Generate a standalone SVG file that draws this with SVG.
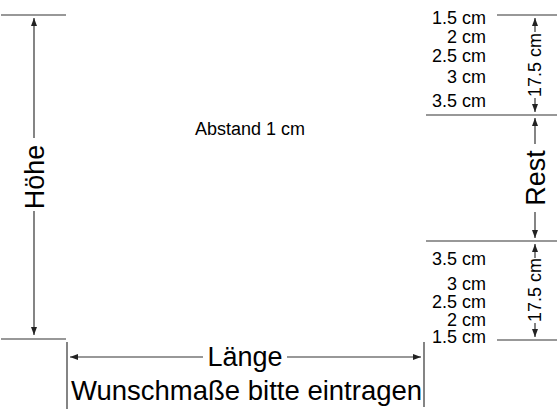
<svg xmlns="http://www.w3.org/2000/svg" width="560" height="420" viewBox="0 0 560 420">
<style>
.ln{stroke:#333;stroke-width:1.2;fill:none}
.ar{stroke:#333;stroke-width:1.2;fill:none;marker-end:url(#ah)}
.big{font-family:"Liberation Sans",Arial,sans-serif;font-size:27px;fill:#000}
.sm{font-family:"Liberation Sans",Arial,sans-serif;font-size:18px;fill:#000}
.r{text-anchor:end}
.m{text-anchor:middle}
</style>
<defs>
<marker id="ah" markerUnits="userSpaceOnUse" markerWidth="9" markerHeight="6" refX="8" refY="3" orient="auto">
<path d="M0,0 L8,3 L0,6 Z" fill="#222"/>
</marker>
</defs>
<rect width="560" height="420" fill="#fff"/>
<g id="extension-lines">
<line class="ln" x1="1" y1="15" x2="66" y2="15"/>
<line class="ln" x1="1" y1="339" x2="66" y2="339"/>
<line class="ln" x1="67" y1="342" x2="67" y2="409"/>
<line class="ln" x1="424" y1="342" x2="424" y2="407"/>
<line class="ln" x1="497" y1="15" x2="557" y2="15"/>
<line class="ln" x1="426" y1="115" x2="557" y2="115"/>
<line class="ln" x1="426" y1="241" x2="557" y2="241"/>
<line class="ln" x1="497" y1="340" x2="557" y2="340"/>
</g>
<g id="connectors">
<line class="ar" x1="34" y1="138" x2="34" y2="18"/>
<line class="ar" x1="34" y1="211" x2="34" y2="335"/>
<line class="ar" x1="203" y1="357" x2="70" y2="357"/>
<line class="ar" x1="287" y1="357" x2="421" y2="357"/>
<line class="ar" x1="535" y1="32" x2="535" y2="18"/>
<line class="ar" x1="535" y1="98" x2="535" y2="112"/>
<line class="ar" x1="535" y1="144" x2="535" y2="118"/>
<line class="ar" x1="535" y1="212" x2="535" y2="238"/>
<line class="ar" x1="535" y1="258" x2="535" y2="244"/>
<line class="ar" x1="535" y1="323" x2="535" y2="337"/>
</g>
<g id="hoehe">
<text class="big m" transform="translate(34,177) rotate(-90)" dy="0.36em">Höhe</text>
</g>
<g id="laenge">
<text class="big m" x="245" y="366">Länge</text>
</g>
<g id="wunsch">
<text class="big" x="71" y="400" style="font-size:27.5px">Wunschmaße bitte eintragen</text>
</g>
<g id="abstand">
<text class="sm" x="195" y="135">Abstand 1 cm</text>
</g>
<g id="rest">
<text class="big m" transform="translate(535,178) rotate(-90)" dy="0.36em">Rest</text>
</g>
<g id="dim-top">
<text class="sm m" transform="translate(535,65) rotate(-90)" dy="0.36em">17.5 cm</text>
</g>
<g id="dim-bottom">
<text class="sm m" transform="translate(535,290) rotate(-90)" dy="0.36em">17.5 cm</text>
</g>
<g id="labels-top">
<text class="sm r" x="486" y="24">1.5 cm</text>
<text class="sm r" x="486" y="43">2 cm</text>
<text class="sm r" x="486" y="62">2.5 cm</text>
<text class="sm r" x="486" y="83">3 cm</text>
<text class="sm r" x="486" y="107">3.5 cm</text>
</g>
<g id="labels-bottom">
<text class="sm r" x="486" y="265">3.5 cm</text>
<text class="sm r" x="486" y="290">3 cm</text>
<text class="sm r" x="486" y="308">2.5 cm</text>
<text class="sm r" x="486" y="326">2 cm</text>
<text class="sm r" x="486" y="343">1.5 cm</text>
</g>
</svg>
